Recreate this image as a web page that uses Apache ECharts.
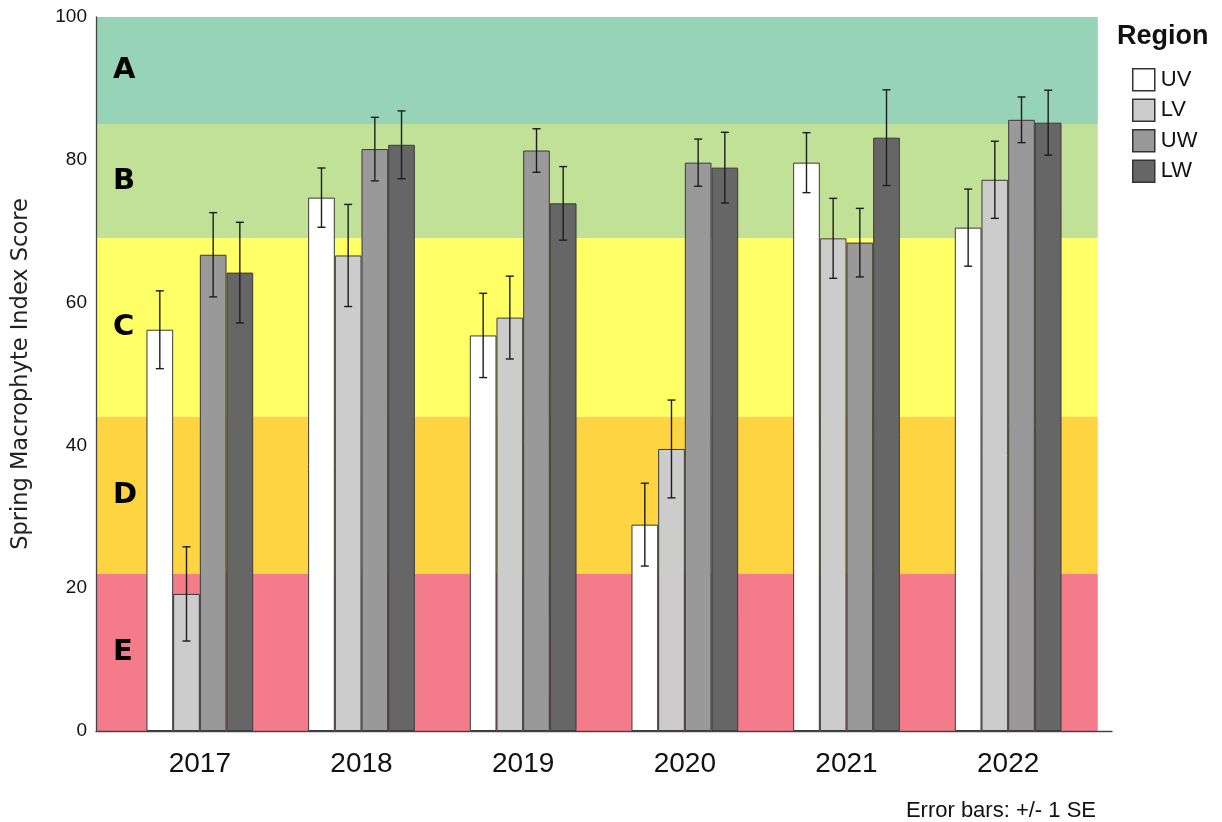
<!DOCTYPE html>
<html>
<head>
<meta charset="utf-8">
<script src="https://cdn.jsdelivr.net/npm/echarts@6/dist/echarts.min.js"></script>
<style>
  html, body { margin: 0; padding: 0; background: #ffffff; }
  #chart { width: 1222px; height: 822px; }
</style>
</head>
<body>
<div id="chart"></div>
<script>
// Survey years and regions
const years = ['2017', '2018', '2019', '2020', '2021', '2022'];
const regions = ['UV', 'LV', 'UW', 'LW'];

// Mean spring macrophyte index score per region and year
const uvMean = [56.2, 74.7, 55.4, 28.9, 79.6, 70.5];
const lvMean = [19.2, 66.6, 57.9, 39.5, 69.0, 77.2];
const uwMean = [66.7, 81.5, 81.3, 79.6, 68.4, 85.6];
const lwMean = [64.2, 82.1, 73.9, 78.9, 83.1, 85.2];

// Standard errors (+/- 1 SE)
const uvSE = [5.45, 4.15, 5.9, 5.8, 4.2, 5.4];
const lvSE = [6.6, 7.15, 5.8, 6.85, 5.6, 5.4];
const uwSE = [5.9, 4.45, 3.05, 3.3, 4.8, 3.2];
const lwSE = [7.05, 4.75, 5.15, 4.95, 6.7, 4.55];

// Condition classes shown as background bands
const bandNames = ['A', 'B', 'C', 'D', 'E'];
const bandUpper = [100, 85, 69, 44, 22];
const bandLower = [85, 69, 44, 22, 0];
const bandColors = ['#97d3b6', '#c0e196', '#ffff66', '#ffd441', '#f47c8a'];

const yTickValues = [0, 20, 40, 60, 80, 100];

const regionColors = ['#ffffff', '#cccccc', '#999999', '#666666'];
const means = [uvMean, lvMean, uwMean, lwMean];
const ses = [uvSE, lvSE, uwSE, lwSE];

const CATEGORY_GAP = 0.34;
const BAND_RIGHT = 0.986; // bands stop a little short of the x-axis line end

const chart = echarts.init(document.getElementById('chart'), null, { renderer: 'canvas' });

const barSeries = regions.map((name, k) => ({
  name: name,
  type: 'bar',
  xAxisIndex: 1,
  yAxisIndex: 1,
  data: means[k],
  barGap: '0%',
  barCategoryGap: (CATEGORY_GAP * 100) + '%',
  itemStyle: { color: regionColors[k], borderColor: '#3a3a3a', borderWidth: 1 },
  emphasis: { disabled: true },
  z: 3
}));

const errData = [];
regions.forEach((name, k) => {
  years.forEach((y, i) => { errData.push([i, k, means[k][i], ses[k][i]]); });
});

const bandData = bandNames.map((n, i) => [bandLower[i], bandUpper[i], i]);

const option = {
  animation: false,
  textStyle: { fontFamily: 'Liberation Sans' },
  title: [
    {
      text: 'Region', left: 1112, top: 18,
      textStyle: { fontFamily: 'Liberation Sans', fontWeight: 'bold', fontSize: 27, color: '#111' }
    },
    {
      text: 'Error bars: +/- 1 SE', right: 121, top: 795,
      textStyle: { fontFamily: 'Liberation Sans', fontWeight: 'normal', fontSize: 22, color: '#111' }
    }
  ],
  legend: {
    orient: 'vertical',
    left: 1127, top: 63,
    itemWidth: 22, itemHeight: 22, itemGap: 7,
    icon: 'rect',
    data: regions,
    textStyle: { fontFamily: 'Liberation Sans', fontSize: 22, color: '#111', padding: [0, 0, 0, 1] },
    itemStyle: { borderColor: '#333', borderWidth: 1.5 }
  },
  grid: [
    { left: 96, right: 110, top: 17, bottom: 91 },
    { left: 119, right: 133, top: 17, bottom: 91 }
  ],
  xAxis: [
    {
      gridIndex: 0, type: 'value', min: 0, max: 1,
      axisLine: { show: true, lineStyle: { color: '#444', width: 1.3 } },
      axisTick: { show: false }, axisLabel: { show: false }, splitLine: { show: false }
    },
    {
      gridIndex: 1, type: 'category', data: years,
      axisLine: { show: false }, axisTick: { show: false },
      axisLabel: { fontFamily: 'Liberation Sans', fontSize: 28, color: '#111', margin: 19 },
      splitLine: { show: false }
    }
  ],
  yAxis: [
    {
      gridIndex: 0, type: 'value', min: 0, max: 100, interval: 20,
      name: 'Spring Macrophyte Index Score', nameLocation: 'middle', nameGap: 63,
      nameTextStyle: { fontFamily: 'DejaVu Sans', fontSize: 22.5, color: '#222' },
      axisLine: { show: true, lineStyle: { color: '#444', width: 1.3 } },
      axisTick: { show: false },
      axisLabel: { fontFamily: 'Liberation Sans', fontSize: 19, color: '#111', margin: 9,
        formatter: v => yTickValues.includes(v) ? String(v) : '' },
      splitLine: { show: false }
    },
    {
      gridIndex: 1, type: 'value', min: 0, max: 100, show: false
    }
  ],
  series: [
    {
      name: 'bands',
      type: 'custom',
      xAxisIndex: 0, yAxisIndex: 0,
      silent: true,
      z: 0,
      data: bandData,
      encode: { x: -1, y: [0, 1] },
      renderItem: function (params, api) {
        const lo = api.value(0), hi = api.value(1), idx = api.value(2);
        const p0 = api.coord([0, hi]);
        const p1 = api.coord([BAND_RIGHT, lo]);
        return {
          type: 'group',
          children: [
            {
              type: 'rect',
              shape: { x: p0[0], y: p0[1], width: p1[0] - p0[0], height: p1[1] - p0[1] },
              style: { fill: bandColors[idx] }
            },
            {
              type: 'text',
              style: {
                x: p0[0] + 17, y: (p0[1] + p1[1]) / 2,
                text: bandNames[idx],
                fontFamily: 'DejaVu Sans', fontWeight: 'bold', fontSize: 29,
                fill: '#000', align: 'left', verticalAlign: 'middle'
              }
            }
          ]
        };
      }
    },
    ...barSeries,
    {
      name: 'errors',
      type: 'custom',
      xAxisIndex: 1, yAxisIndex: 1,
      silent: true,
      z: 5,
      data: errData,
      encode: { x: 0, y: 2 },
      renderItem: function (params, api) {
        const cat = api.value(0), k = api.value(1), m = api.value(2), se = api.value(3);
        const band = api.size([1, 0])[0];
        const bw = band * (1 - CATEGORY_GAP) / regions.length;
        const cx = api.coord([cat, 0])[0] + (k - (regions.length - 1) / 2) * bw;
        const yTop = api.coord([cat, m + se])[1];
        const yBot = api.coord([cat, m - se])[1];
        const cap = 4;
        const st = { stroke: '#1c1c1c', lineWidth: 1.4 };
        return {
          type: 'group',
          children: [
            { type: 'line', shape: { x1: cx, y1: yTop, x2: cx, y2: yBot }, style: st },
            { type: 'line', shape: { x1: cx - cap, y1: yTop, x2: cx + cap, y2: yTop }, style: st },
            { type: 'line', shape: { x1: cx - cap, y1: yBot, x2: cx + cap, y2: yBot }, style: st }
          ]
        };
      }
    }
  ]
};

chart.setOption(option);
</script>
</body>
</html>
